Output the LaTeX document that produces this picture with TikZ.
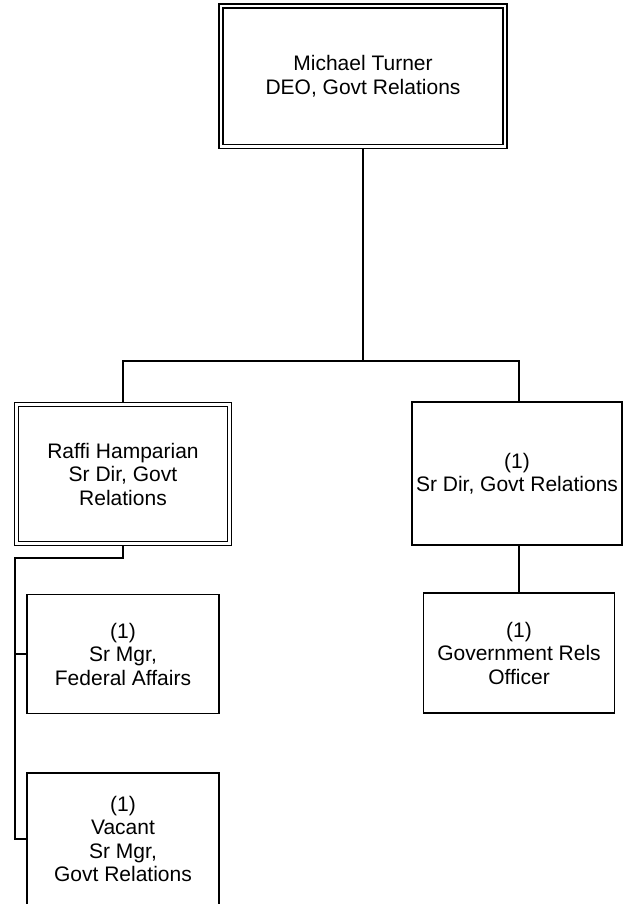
\documentclass[tikz,border=0pt]{standalone}
\usepackage{fontspec}
\setmainfont{Liberation Sans}
\usetikzlibrary{backgrounds}
\begin{document}
\begin{tikzpicture}[x=1pt,y=-1pt,
  box/.style={draw, line width=1.6pt, rectangle, fill=white, align=center,
    font=\fontsize{21}{23.5}\selectfont, inner sep=0pt},
  dbox/.style={box, double, line width=1.4pt, double distance=2.4pt},
  conn/.style={line width=1.8pt}]
\useasboundingbox (0,0) rectangle (627,904);
\clip (0,0) rectangle (627,904);
\node[dbox, minimum width=284pt, minimum height=140.5pt] (top) at (363,76.25) {Michael Turner\\DEO, Govt Relations};
\node[dbox, minimum width=213pt, minimum height=139pt] (raffi) at (123,474) {Raffi Hamparian\\Sr Dir, Govt\\Relations};
\node[box, minimum width=210pt, minimum height=143pt] (srdir) at (517,473.5) {(1)\\Sr Dir, Govt Relations};
\node[box, minimum width=191pt, minimum height=120pt] (gov) at (519,653) {(1)\\Government Rels\\Officer};
\node[box, minimum width=192pt, minimum height=119pt] (fed) at (123,654) {(1)\\Sr Mgr,\\Federal Affairs};
\node[box, minimum width=192pt, minimum height=132pt] (vac) at (123,839) {(1)\\Vacant\\Sr Mgr,\\Govt Relations};
\coordinate (j) at (363,361);
\coordinate (spine) at (15,558);
\begin{scope}[on background layer]
\draw[conn] (top.south) -- (j);
\draw[conn] (raffi.north) -- (raffi.north |- j) -- (gov.north |- j) -- (gov.north |- srdir.north);
\draw[conn] (gov.north |- srdir.south) -- (gov.north);
\draw[conn] (raffi.south) |- (spine) |- (vac.west);
\draw[conn] (spine |- fed.west) -- (fed.west);
\end{scope}
\end{tikzpicture}
\end{document}
